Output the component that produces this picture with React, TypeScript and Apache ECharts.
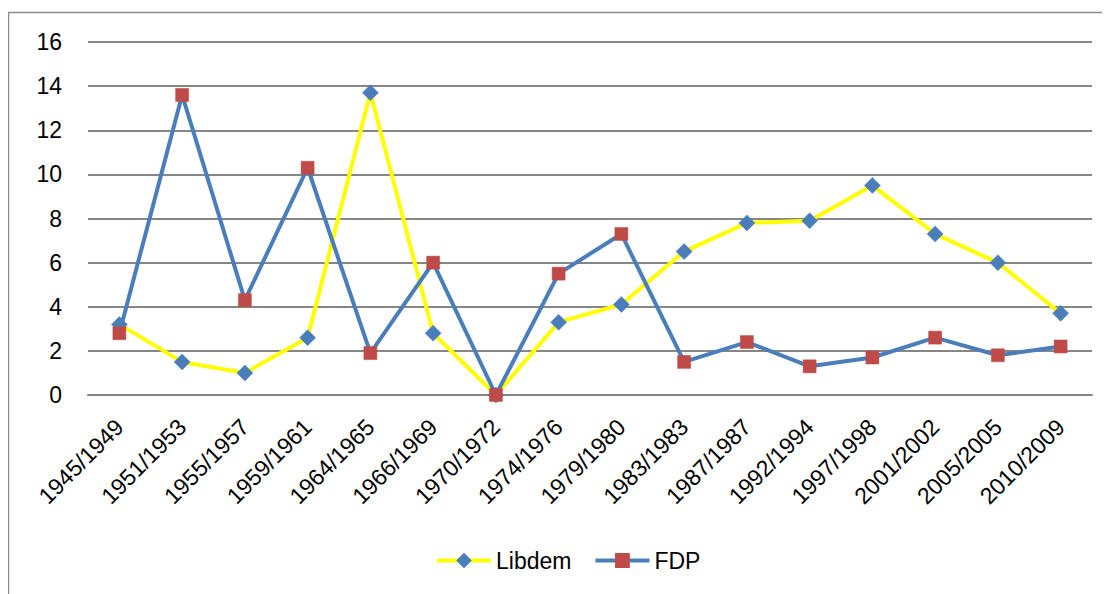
import React, { useEffect, useRef } from "react";
import * as echarts from "echarts";

const categories = [
  "1945/1949", "1951/1953", "1955/1957", "1959/1961", "1964/1965", "1966/1969",
  "1970/1972", "1974/1976", "1979/1980", "1983/1983", "1987/1987", "1992/1994",
  "1997/1998", "2001/2002", "2005/2005", "2010/2009",
];
const libdem = [3.2, 1.5, 1.0, 2.6, 13.7, 2.8, 0, 3.3, 4.1, 6.5, 7.8, 7.9, 9.5, 7.3, 6.0, 3.7];
const fdp = [2.8, 13.6, 4.3, 10.3, 1.9, 6.0, 0, 5.5, 7.3, 1.5, 2.4, 1.3, 1.7, 2.6, 1.8, 2.2];
const yTicks = { min: 0, max: 16, interval: 2 };

const FONT = "'Liberation Sans', Arial, sans-serif";

export default function App() {
  const ref = useRef<HTMLDivElement>(null);
  useEffect(() => {
    if (!ref.current) return;
    const chart = echarts.init(ref.current, null, { renderer: "svg" });
    chart.setOption({
      animation: false,
      backgroundColor: "#ffffff",
      textStyle: { fontFamily: FONT },
      graphic: [
        {
          type: "rect",
          shape: { x: 0.5, y: 4.5, width: 1200, height: 700 },
          style: { fill: "none", stroke: "#8c8c8c", lineWidth: 1.5 },
          silent: true,
        },
      ],
      grid: { left: 80, top: 34, width: 1004, height: 353, containLabel: false },
      legend: {
        top: 536,
        left: 422,
        itemWidth: 54,
        itemHeight: 16,
        itemGap: 22,
        lineStyle: { width: 4 },
        textStyle: { fontSize: 23, color: "#000", fontFamily: FONT },
        data: ["Libdem", "FDP"],
      },
      xAxis: {
        type: "category",
        data: categories,
        boundaryGap: true,
        axisLine: { show: true, lineStyle: { color: "#868686", width: 2 } },
        axisTick: { show: false },
        axisLabel: {
          rotate: 45,
          margin: 28,
          fontSize: 23,
          color: "#000",
          fontFamily: FONT,
          interval: 0,
        },
      },
      yAxis: {
        type: "value",
        min: yTicks.min,
        max: yTicks.max,
        interval: yTicks.interval,
        axisLine: { show: false },
        axisTick: { show: false },
        splitLine: { lineStyle: { color: "#868686", width: 2 } },
        axisLabel: { margin: 26, fontSize: 23, color: "#000", fontFamily: FONT },
      },
      series: [
        {
          name: "Libdem",
          type: "line",
          data: libdem,
          symbol: "diamond",
          symbolSize: 16,
          showAllSymbol: true,
          lineStyle: { color: "#FFFF00", width: 4 },
          itemStyle: { color: "#4A7EBB", borderColor: "#4A7EBB", borderWidth: 0.5 },
        },
        {
          name: "FDP",
          type: "line",
          data: fdp,
          symbol: "rect",
          symbolSize: 13,
          showAllSymbol: true,
          lineStyle: { color: "#4A7EBB", width: 4 },
          itemStyle: { color: "#BE4B48", borderColor: "#BE4B48", borderWidth: 0.5 },
        },
      ],
    });
    return () => chart.dispose();
  }, []);
  return <div ref={ref} style={{ width: 1102, height: 586 }} />;
}
